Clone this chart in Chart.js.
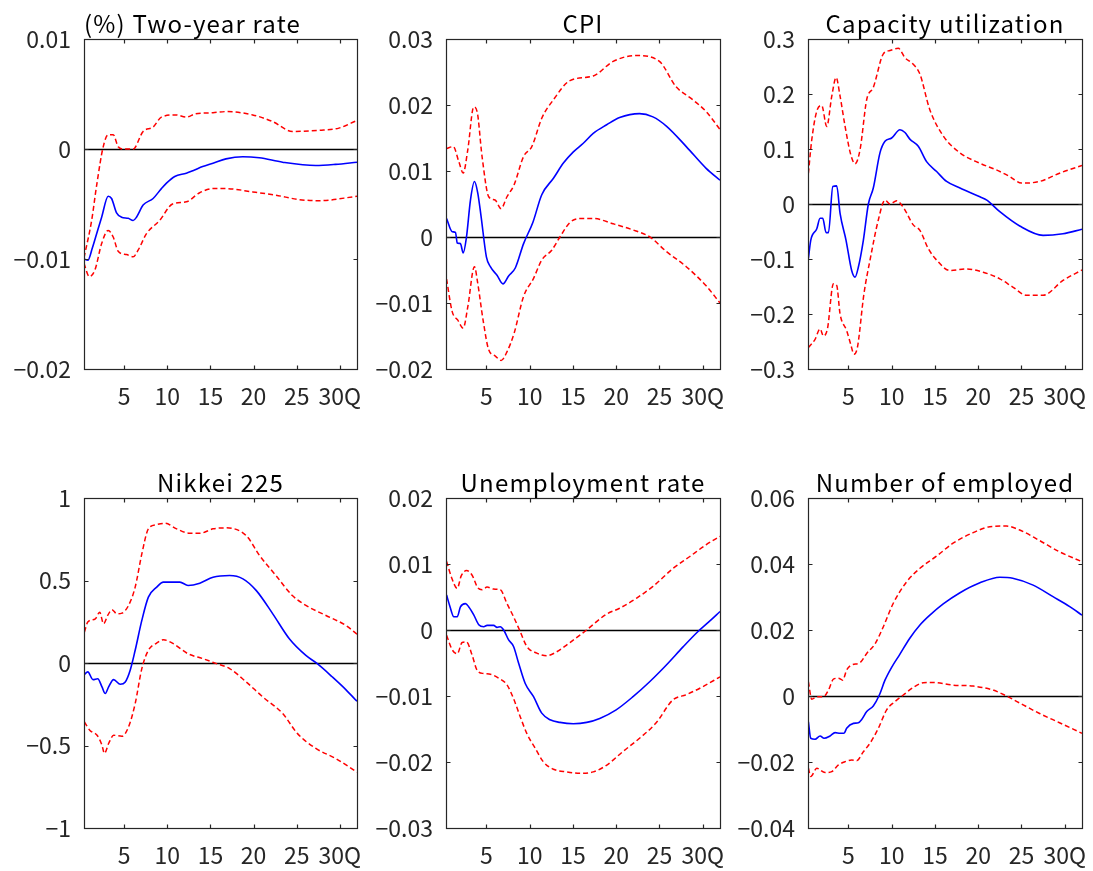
<!DOCTYPE html>
<html>
<head>
<meta charset="utf-8">
<script src="https://cdn.jsdelivr.net/npm/chart.js@4.4.1/dist/chart.umd.min.js"></script>
<style>
body{margin:0;background:#fff;width:1093px;height:871px;overflow:hidden;position:relative;}
canvas{position:absolute;}
</style>
</head>
<body>
<canvas id="c0" width="365" height="420" style="left:0;top:0"></canvas>
<canvas id="c1" width="366" height="420" style="left:362px;top:0"></canvas>
<canvas id="c2" width="366" height="420" style="left:724px;top:0"></canvas>
<canvas id="c3" width="365" height="412" style="left:0;top:459px"></canvas>
<canvas id="c4" width="366" height="412" style="left:362px;top:459px"></canvas>
<canvas id="c5" width="366" height="412" style="left:724px;top:459px"></canvas>
<script>
// horizon in quarters
const xMin = 1 / 3;
const xMax = 32;
const horizonTicks = [5, 10, 15, 20, 25, 30];
const horizonLabels = ['5', '10', '15', '20', '25', '30Q'];

const titles = ['(%) Two-year rate', 'CPI', 'Capacity utilization',
  'Nikkei 225', 'Unemployment rate', 'Number of employed'];

// y axis ticks per panel
const twoYearTicks = [-0.02, -0.01, 0, 0.01];
const twoYearTickLabels = ['−0.02', '−0.01', '0', '0.01'];
const cpiTicks = [-0.02, -0.01, 0, 0.01, 0.02, 0.03];
const cpiTickLabels = ['−0.02', '−0.01', '0', '0.01', '0.02', '0.03'];
const capTicks = [-0.3, -0.2, -0.1, 0, 0.1, 0.2, 0.3];
const capTickLabels = ['−0.3', '−0.2', '−0.1', '0', '0.1', '0.2', '0.3'];
const nikkeiTicks = [-1, -0.5, 0, 0.5, 1];
const nikkeiTickLabels = ['−1', '−0.5', '0', '0.5', '1'];
const unempTicks = [-0.03, -0.02, -0.01, 0, 0.01, 0.02];
const unempTickLabels = ['−0.03', '−0.02', '−0.01', '0', '0.01', '0.02'];
const emplTicks = [-0.04, -0.02, 0, 0.02, 0.04, 0.06];
const emplTickLabels = ['−0.04', '−0.02', '0', '0.02', '0.04', '0.06'];

// [quarter, response]
const twoYearMid = [[0.33,-0.0100],[0.8,-0.0101],[1.3,-0.0090],[1.8,-0.0077],[2.38,-0.0062],[3.14,-0.0043],[3.53,-0.0045],[4.11,-0.0058],[4.69,-0.0062],[5.46,-0.0063],[6.03,-0.0065],[6.42,-0.0062],[7.19,-0.0051],[8.35,-0.0045],[9.31,-0.0036],[9.9,-0.0031],[10.86,-0.0025],[12.2,-0.0022],[13.16,-0.0019],[14.1,-0.0016],[15.3,-0.0013],[16.8,-0.0009],[18.75,-0.0007],[20.67,-0.0008],[23.37,-0.0012],[27.2,-0.0015],[29.5,-0.0014],[32,-0.0012]];
const twoYearUp = [[0.33,-0.0099],[1.22,-0.0065],[1.8,-0.0033],[2.56,0.0002],[3.14,0.0013],[3.72,0.0013],[4.3,0.0002],[4.87,0.0],[6.03,0.0],[7.19,0.0016],[8.35,0.0020],[9.31,0.0029],[10.99,0.0031],[12.2,0.0029],[13.3,0.0032],[15.3,0.0033],[16.8,0.0034],[19.9,0.0031],[22.2,0.0025],[24.5,0.0016],[27.6,0.0017],[29.9,0.0019],[32,0.0026]];
const twoYearLow = [[0.33,-0.0104],[0.95,-0.0116],[1.6,-0.0110],[2.38,-0.0086],[3.14,-0.0074],[3.72,-0.0080],[4.3,-0.0093],[5.27,-0.0096],[6.03,-0.0098],[6.61,-0.0092],[7.58,-0.0077],[9.1,-0.0065],[10.6,-0.0050],[12.2,-0.0048],[13.7,-0.0040],[15.3,-0.0036],[16.8,-0.0036],[19.9,-0.0039],[22.6,-0.0042],[25.3,-0.0046],[27.6,-0.0047],[32,-0.0043]];

const cpiMid = [[0.4,0.0028],[1.05,0.0008],[1.43,0.0007],[1.63,-0.0009],[2.0,-0.0010],[2.32,-0.0024],[2.7,0.0],[3.16,0.0056],[3.62,0.0084],[4.0,0.0067],[4.39,0.0031],[5.0,-0.0030],[5.46,-0.0045],[6.23,-0.0058],[6.92,-0.0071],[7.57,-0.0059],[8.34,-0.0047],[9.3,-0.0010],[10.37,0.0022],[11.4,0.0064],[12.75,0.0089],[13.9,0.0112],[15.05,0.0129],[16.2,0.0142],[17.35,0.0157],[18.9,0.0170],[20.4,0.0181],[22.7,0.0187],[24.25,0.0182],[25.8,0.0168],[28.1,0.0137],[30.4,0.0104],[32,0.0086]];
const cpiUp = [[0.4,0.0134],[1.17,0.0137],[1.82,0.0114],[2.32,0.0097],[2.85,0.0132],[3.54,0.0197],[3.93,0.0190],[4.5,0.0122],[5.27,0.0061],[6.0,0.0056],[6.7,0.0043],[7.38,0.0061],[8.2,0.0079],[9.3,0.0122],[10.25,0.0137],[11.4,0.0180],[12.75,0.0208],[14.66,0.0237],[17.35,0.0244],[19.65,0.0266],[22.3,0.0275],[25.0,0.0266],[26.9,0.0228],[28.85,0.0208],[30.4,0.0190],[32,0.0163]];
const cpiLow = [[0.4,-0.0064],[1.05,-0.0113],[1.7,-0.0126],[2.32,-0.0138],[2.85,-0.0106],[3.62,-0.0045],[4.0,-0.0070],[4.62,-0.0126],[5.27,-0.0171],[6.0,-0.0180],[6.7,-0.0187],[7.38,-0.0174],[8.2,-0.0146],[9.3,-0.0090],[10.44,-0.0063],[11.4,-0.0035],[12.55,-0.0020],[13.5,0.0],[14.66,0.0022],[15.8,0.0028],[17.35,0.0028],[19.65,0.0020],[22.3,0.0009],[23.9,0.0],[25.8,-0.0022],[28.1,-0.0045],[30.4,-0.0074],[32,-0.0100]];

const capMid = [[0.38,-0.099],[0.65,-0.066],[1.35,-0.045],[1.73,-0.026],[2.04,-0.026],[2.42,-0.052],[2.7,-0.052],[3.2,0.032],[3.65,0.033],[4.04,-0.017],[4.73,-0.066],[5.38,-0.121],[5.77,-0.133],[6.15,-0.115],[6.73,-0.066],[7.31,0.0],[7.88,0.029],[8.65,0.093],[9.23,0.114],[10.0,0.120],[10.96,0.135],[11.54,0.130],[12.1,0.118],[13.08,0.105],[14.04,0.077],[15.2,0.059],[16.35,0.041],[17.9,0.029],[20.2,0.013],[21.0,0.007],[22.5,-0.014],[24.8,-0.040],[27.5,-0.057],[29.8,-0.054],[32,-0.046]];
const capUp = [[0.38,0.056],[0.77,0.117],[1.35,0.169],[1.92,0.179],[2.5,0.141],[3.08,0.196],[3.58,0.230],[4.04,0.196],[4.62,0.141],[5.27,0.090],[5.77,0.073],[6.35,0.099],[7.12,0.190],[7.88,0.212],[9.04,0.273],[9.8,0.279],[10.77,0.283],[11.54,0.266],[12.5,0.254],[13.27,0.236],[14.4,0.172],[16.0,0.123],[17.9,0.093],[20.2,0.074],[22.1,0.062],[23.65,0.050],[25.0,0.038],[27.1,0.041],[29.4,0.056],[32,0.070]];
const capLow = [[0.38,-0.261],[1.15,-0.246],[1.73,-0.227],[2.12,-0.240],[2.58,-0.227],[3.27,-0.145],[3.65,-0.148],[4.04,-0.200],[4.8,-0.230],[5.27,-0.255],[5.65,-0.273],[6.04,-0.261],[6.8,-0.163],[7.5,-0.102],[8.46,-0.029],[9.23,0.007],[9.8,0.0],[10.58,0.006],[11.35,-0.006],[12.5,-0.038],[13.27,-0.048],[14.23,-0.081],[15.2,-0.102],[16.73,-0.121],[18.65,-0.118],[20.58,-0.124],[22.5,-0.136],[24.0,-0.151],[25.6,-0.166],[27.5,-0.166],[29.8,-0.139],[32,-0.120]];

const nikkeiMid = [[0.38,-0.069],[0.77,-0.054],[1.38,-0.101],[1.92,-0.095],[2.42,-0.145],[2.8,-0.185],[3.19,-0.145],[3.77,-0.101],[4.54,-0.129],[5.12,-0.115],[5.69,-0.044],[6.27,0.077],[7.04,0.258],[7.8,0.399],[8.77,0.460],[9.54,0.490],[11.46,0.490],[12.4,0.470],[13.77,0.484],[15.3,0.520],[17.23,0.530],[18.77,0.510],[20.3,0.440],[22.23,0.298],[24.15,0.147],[26.07,0.046],[27.4,-0.004],[29.15,-0.085],[30.7,-0.161],[32,-0.232]];
const nikkeiUp = [[0.38,0.188],[0.77,0.248],[1.65,0.268],[2.15,0.308],[2.6,0.238],[3.08,0.288],[3.58,0.323],[4.15,0.298],[4.73,0.302],[5.5,0.349],[6.27,0.460],[7.04,0.661],[7.8,0.813],[8.77,0.839],[9.73,0.847],[11.08,0.813],[12.6,0.786],[13.77,0.786],[15.3,0.813],[16.85,0.819],[19.15,0.772],[20.7,0.651],[22.6,0.530],[24.5,0.409],[26.07,0.349],[28.4,0.288],[30.7,0.228],[32,0.175]];
const nikkeiLow = [[0.38,-0.357],[1.0,-0.407],[1.85,-0.438],[2.42,-0.498],[2.7,-0.548],[3.19,-0.488],[3.77,-0.438],[4.73,-0.444],[5.5,-0.387],[6.27,-0.246],[7.04,-0.034],[7.8,0.077],[8.77,0.121],[9.54,0.141],[10.7,0.117],[12.4,0.056],[14.15,0.026],[15.7,-0.004],[17.23,-0.034],[19.15,-0.115],[21.08,-0.206],[23.38,-0.306],[25.1,-0.428],[27.23,-0.518],[29.54,-0.579],[32,-0.662]];

const unempMid = [[0.4,0.0053],[0.78,0.0036],[1.24,0.0020],[1.63,0.0020],[2.0,0.0035],[2.58,0.0040],[2.97,0.0035],[3.54,0.0023],[4.12,0.0008],[4.7,0.0005],[5.08,0.0007],[5.84,0.0007],[6.23,0.0004],[6.61,0.0005],[7.0,0.0],[7.57,-0.0015],[8.14,-0.0025],[8.72,-0.0050],[9.49,-0.0081],[10.45,-0.0101],[11.4,-0.0126],[12.36,-0.0136],[13.5,-0.0140],[15.05,-0.0142],[16.6,-0.0140],[18.1,-0.0134],[20.0,-0.0121],[21.95,-0.0101],[23.9,-0.0078],[25.8,-0.0053],[27.7,-0.0026],[29.4,-0.0003],[30.77,0.0013],[32,0.0028]];
const unempUp = [[0.4,0.0104],[0.94,0.0081],[1.63,0.0063],[2.09,0.0082],[2.7,0.0090],[3.35,0.0083],[4.0,0.0064],[4.5,0.0061],[5.08,0.0065],[5.84,0.0062],[6.61,0.0061],[7.38,0.0040],[8.14,0.0020],[8.83,0.0],[9.68,-0.0025],[10.83,-0.0035],[11.98,-0.0039],[13.13,-0.0033],[14.66,-0.0019],[16.58,0.0],[18.88,0.0024],[20.4,0.0033],[22.33,0.0048],[24.25,0.0066],[26.55,0.0093],[28.47,0.0111],[30.38,0.0129],[32,0.0142]];
const unempLow = [[0.4,-0.0008],[1.05,-0.0030],[1.63,-0.0036],[2.2,-0.0019],[2.7,-0.0018],[3.35,-0.0038],[3.93,-0.0061],[4.7,-0.0066],[5.46,-0.0067],[6.42,-0.0073],[7.38,-0.0083],[8.14,-0.0104],[8.9,-0.0131],[9.68,-0.0157],[10.64,-0.0179],[11.6,-0.0200],[12.75,-0.0211],[14.28,-0.0215],[15.8,-0.0217],[17.35,-0.0215],[18.88,-0.0205],[20.8,-0.0184],[22.7,-0.0164],[24.6,-0.0141],[26.55,-0.0106],[28.1,-0.0098],[30.0,-0.0086],[32,-0.0071]];

const emplMid = [[0.38,-0.0078],[0.65,-0.0128],[1.15,-0.0131],[1.73,-0.0121],[2.19,-0.0128],[2.88,-0.0121],[3.46,-0.0111],[4.04,-0.0113],[4.5,-0.0113],[4.8,-0.0098],[5.58,-0.0083],[6.15,-0.0081],[6.54,-0.0071],[7.12,-0.0047],[7.88,-0.0030],[8.58,0.0003],[9.23,0.0048],[10.0,0.0087],[10.96,0.0127],[12.1,0.0175],[13.27,0.0215],[14.42,0.0245],[15.96,0.0279],[17.9,0.0313],[20.2,0.0343],[22.5,0.0360],[24.0,0.0357],[26.35,0.0336],[28.65,0.0301],[30.58,0.0271],[32,0.0245]];
const emplUp = [[0.38,0.0043],[0.77,-0.0010],[1.35,-0.0002],[2.12,-0.0002],[2.7,0.0018],[3.27,0.0051],[3.85,0.0054],[4.35,0.0048],[4.8,0.0079],[5.38,0.0094],[6.35,0.0101],[7.12,0.0129],[8.08,0.0158],[9.04,0.0210],[10.19,0.0281],[11.73,0.0346],[13.27,0.0387],[15.2,0.0424],[17.1,0.0463],[19.42,0.0495],[21.35,0.0513],[23.27,0.0515],[24.8,0.0503],[27.1,0.0471],[29.4,0.0437],[32,0.0407]];
const emplLow = [[0.38,-0.0219],[0.65,-0.0244],[1.35,-0.0219],[2.3,-0.0232],[3.08,-0.0229],[3.85,-0.0209],[4.62,-0.0199],[5.38,-0.0194],[5.96,-0.0196],[6.73,-0.0169],[7.5,-0.0143],[8.46,-0.0098],[9.42,-0.0042],[10.38,-0.0017],[11.35,0.0003],[12.5,0.0026],[13.65,0.0040],[14.8,0.0041],[17.1,0.0033],[19.42,0.0030],[21.73,0.0018],[23.27,0.0],[25.2,-0.0027],[27.1,-0.0053],[29.4,-0.0081],[32,-0.0113]];

const FONT = '"Noto Sans CJK JP", "Noto Sans", sans-serif';
const INK = '#262626';

const framePlugin = {
  id: 'frame',
  beforeDatasetsDraw(chart) {
    // zero line under the curves
    const ctx = chart.ctx;
    const a = chart.chartArea;
    const py = Math.round(chart.scales.y.getPixelForValue(0)) + 0.5;
    ctx.save();
    ctx.strokeStyle = '#000';
    ctx.lineWidth = 1.3;
    ctx.beginPath();
    ctx.moveTo(a.left, py); ctx.lineTo(a.right, py);
    ctx.stroke();
    ctx.restore();
  },
  afterDatasetsDraw(chart, args, opts) {
    const ctx = chart.ctx;
    const a = chart.chartArea;
    const x = chart.scales.x, y = chart.scales.y;
    const l = Math.round(a.left) + 0.5, r = Math.round(a.right) + 0.5;
    const t = Math.round(a.top) + 0.5, b = Math.round(a.bottom) + 0.5;
    ctx.save();
    ctx.strokeStyle = INK;
    ctx.lineWidth = 1.2;
    ctx.strokeRect(l, t, r - l, b - t);
    ctx.beginPath();
    horizonTicks.forEach(v => {
      const px = Math.round(x.getPixelForValue(v)) + 0.5;
      ctx.moveTo(px, b); ctx.lineTo(px, b - 4);
      ctx.moveTo(px, t); ctx.lineTo(px, t + 4);
    });
    y.ticks.forEach(tk => {
      const py = Math.round(y.getPixelForValue(tk.value)) + 0.5;
      ctx.moveTo(l, py); ctx.lineTo(l + 4, py);
      ctx.moveTo(r, py); ctx.lineTo(r - 4, py);
    });
    ctx.stroke();
    ctx.fillStyle = '#000';
    ctx.font = '24px ' + FONT;
    ctx.letterSpacing = '1.2px';
    ctx.textBaseline = 'middle';
    if (opts.align === 'left') {
      ctx.textAlign = 'left';
      ctx.fillText(opts.text, a.left, a.top - 15);
    } else {
      ctx.textAlign = 'center';
      ctx.fillText(opts.text, (a.left + a.right) / 2, a.top - 15);
    }
    ctx.restore();
  }
};

function pts(arr) {
  return arr.map(p => ({x: p[0], y: p[1]}));
}

function makePanel(id, title, align, mid, up, low, yTicks, yLabels, axisHeight) {
  const band = {
    borderColor: '#ff0000', borderWidth: 1.5, borderDash: [5, 3],
    pointRadius: 0, fill: false, cubicInterpolationMode: 'monotone'
  };
  new Chart(document.getElementById(id), {
    type: 'line',
    data: {
      datasets: [
        {data: pts(mid), borderColor: '#0000ff', borderWidth: 1.6,
          pointRadius: 0, fill: false, cubicInterpolationMode: 'monotone'},
        Object.assign({data: pts(up)}, band),
        Object.assign({data: pts(low)}, band)
      ]
    },
    options: {
      responsive: false,
      animation: false,
      events: [],
      layout: {padding: {top: 39, right: 8, left: 0, bottom: 0}},
      plugins: {legend: {display: false}, tooltip: {enabled: false},
        frame: {text: title, align: align}},
      scales: {
        x: {
          type: 'linear', min: xMin, max: xMax,
          grid: {display: false, drawTicks: false},
          border: {display: false},
          afterBuildTicks: s => { s.ticks = horizonTicks.map(v => ({value: v})); },
          afterFit: s => { s.height = axisHeight; s.paddingLeft = 0; s.paddingRight = 0; },
          ticks: {
            autoSkip: false, maxRotation: 0, padding: 13, color: INK,
            font: {family: FONT, size: 23},
            callback: (v, i) => horizonLabels[i]
          }
        },
        y: {
          type: 'linear', min: yTicks[0], max: yTicks[yTicks.length - 1],
          grid: {display: false, drawTicks: false},
          border: {display: false},
          afterBuildTicks: s => { s.ticks = yTicks.map(v => ({value: v})); },
          afterFit: s => { s.width = 84; s.paddingTop = 0; s.paddingBottom = 0; },
          ticks: {
            autoSkip: false, padding: 13, color: INK,
            font: {family: FONT, size: 23},
            callback: (v, i) => yLabels[i]
          }
        }
      }
    },
    plugins: [framePlugin]
  });
}

makePanel('c0', titles[0], 'left', twoYearMid, twoYearUp, twoYearLow, twoYearTicks, twoYearTickLabels, 51);
makePanel('c1', titles[1], 'center', cpiMid, cpiUp, cpiLow, cpiTicks, cpiTickLabels, 51);
makePanel('c2', titles[2], 'center', capMid, capUp, capLow, capTicks, capTickLabels, 51);
makePanel('c3', titles[3], 'center', nikkeiMid, nikkeiUp, nikkeiLow, nikkeiTicks, nikkeiTickLabels, 43);
makePanel('c4', titles[4], 'center', unempMid, unempUp, unempLow, unempTicks, unempTickLabels, 43);
makePanel('c5', titles[5], 'center', emplMid, emplUp, emplLow, emplTicks, emplTickLabels, 43);
</script>
</body>
</html>
